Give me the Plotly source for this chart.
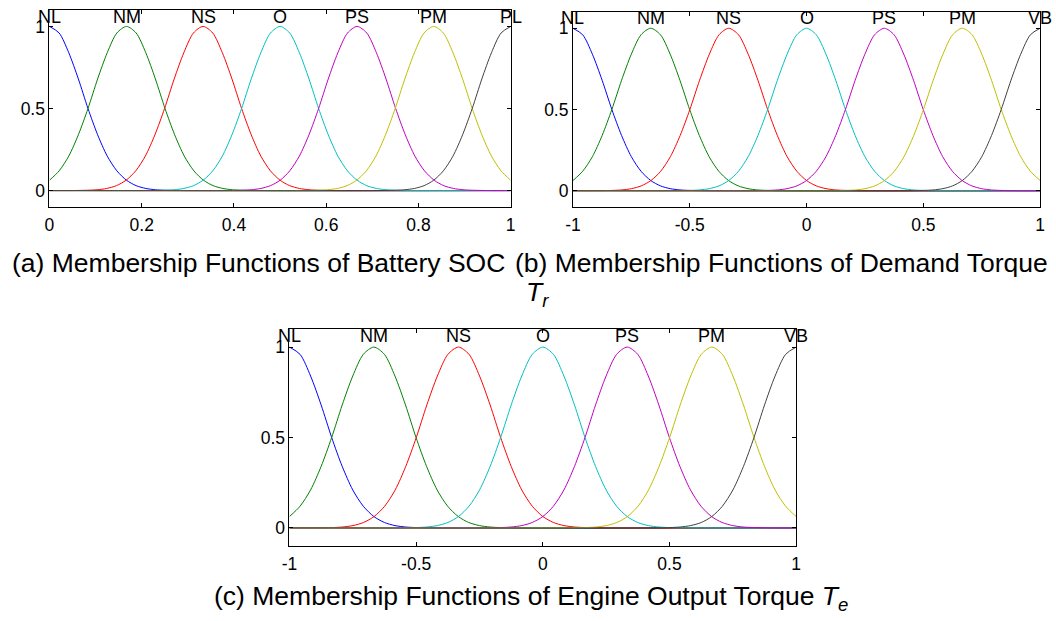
import plotly.graph_objects as go

# ---------------- data ----------------
soc_centers = [0.0, 0.167, 0.333, 0.5, 0.667, 0.833, 1.0]
torque_centers = [-1.0, -0.667, -0.333, 0.0, 0.333, 0.667, 1.0]
soc_labels = ["NL", "NM", "NS", "O", "PS", "PM", "PL"]
torque_labels = ["NL", "NM", "NS", "O", "PS", "PM", "VB"]

# membership profile: offset from the MF centre
# (in units of the centre spacing) and the membership degree there
mf_offset = [0.0, 0.125, 0.25, 0.375, 0.5, 0.625, 0.75, 0.875, 1.0, 1.125, 1.25, 1.375, 1.5, 1.75]
mf_value = [1.0, 0.96, 0.84, 0.68, 0.50, 0.34, 0.21, 0.12, 0.063, 0.03, 0.013, 0.005, 0.002, 0.0]

soc_ticks = [0, 0.2, 0.4, 0.6, 0.8, 1]
soc_ticktext = ["0", "0.2", "0.4", "0.6", "0.8", "1"]
torque_ticks = [-1, -0.5, 0, 0.5, 1]
torque_ticktext = ["-1", "-0.5", "0", "0.5", "1"]
y_ticks = [0, 0.5, 1]
y_ticktext = ["0", "0.5", "1"]

mf_colors = ["#0000FF", "#008000", "#FF0000", "#00BFBF", "#BF00BF", "#BFBF00", "#404040"]

caption_a = "(a) Membership Functions of Battery SOC"
caption_b = "(b) Membership Functions of Demand Torque"
caption_b2 = "<i>T</i><sub><i>r</i></sub>"
caption_c = "(c) Membership Functions of Engine Output Torque <i>T</i><sub><i>e</i></sub>"

FONT = "Liberation Sans, Arial, sans-serif"


def mf_points(c, s, lo, hi):
    pts = []
    for o, v in zip(reversed(mf_offset[1:]), reversed(mf_value[1:])):
        pts.append((c - o * s, v))
    pts.append((c, mf_value[0]))
    for o, v in zip(mf_offset[1:], mf_value[1:]):
        pts.append((c + o * s, v))
    pts = [p for p in pts if lo - 1e-9 <= p[0] <= hi + 1e-9]
    if pts[0][0] > lo + 1e-9:
        pts.insert(0, (lo, 0.0))
    if pts[-1][0] < hi - 1e-9:
        pts.append((hi, 0.0))
    return [p[0] for p in pts], [p[1] for p in pts]


fig = go.Figure()
panels = [
    (soc_centers, soc_labels, 0.0, 1.0, "x", "y"),
    (torque_centers, torque_labels, -1.0, 1.0, "x2", "y2"),
    (torque_centers, torque_labels, -1.0, 1.0, "x3", "y3"),
]
annotations = []
for centers, labels, lo, hi, xa, ya in panels:
    s = centers[1] - centers[0]
    for i, c in enumerate(centers):
        xs, ys = mf_points(c, s, lo, hi)
        fig.add_trace(go.Scatter(x=xs, y=ys, mode="lines", xaxis=xa, yaxis=ya,
                                 line=dict(color=mf_colors[i], width=1, shape="spline", smoothing=0.8),
                                 showlegend=False, hoverinfo="skip"))
        annotations.append(dict(x=c, y=1.06, xref=xa, yref=ya, text=labels[i], showarrow=False,
                                xanchor="center", yanchor="middle",
                                font=dict(family=FONT, size=18, color="black")))

W, H = 1056, 621


def dom(a, b, total):
    return [a / total, b / total]


def ydom(top, bottom):
    return [1 - bottom / H, 1 - top / H]


axis_common = dict(showline=True, linecolor="black", linewidth=1, mirror="ticks",
                   ticks="inside", ticklen=4, tickcolor="black", tickwidth=1,
                   showgrid=False, zeroline=False,
                   tickfont=dict(family=FONT, size=17.5, color="black"))

fig.update_layout(
    width=W, height=H, margin=dict(l=0, r=0, t=0, b=0),
    paper_bgcolor="white", plot_bgcolor="white",
    xaxis=dict(domain=dom(42, 509, W), range=[0, 1], anchor="y", tickvals=soc_ticks,
               ticktext=soc_ticktext, ticklabelstandoff=2, **axis_common),
    yaxis=dict(domain=ydom(10, 207), range=[-0.1, 1.1], anchor="x", tickvals=y_ticks,
               ticktext=y_ticktext, **axis_common),
    xaxis2=dict(domain=dom(572, 1045, W), range=[-1, 1], anchor="y2", tickvals=torque_ticks,
                ticktext=torque_ticktext, ticklabelstandoff=2, **axis_common),
    yaxis2=dict(domain=ydom(12, 207), range=[-0.1, 1.1], anchor="x2", tickvals=y_ticks,
                ticktext=y_ticktext, **axis_common),
    xaxis3=dict(domain=dom(285, 798, W), range=[-1, 1], anchor="y3", tickvals=torque_ticks,
                ticktext=torque_ticktext, ticklabelstandoff=2, **axis_common),
    yaxis3=dict(domain=ydom(329, 546), range=[-0.1, 1.1], anchor="x3", tickvals=y_ticks,
                ticktext=y_ticktext, **axis_common),
)

cap_font = dict(family=FONT, size=26.5, color="black")
annotations += [
    dict(x=254 / W, y=1 - 263 / H, xref="paper", yref="paper", text=caption_a, showarrow=False,
         xanchor="center", yanchor="middle", font=cap_font),
    dict(x=1055 / W, y=1 - 263 / H, xref="paper", yref="paper", text=caption_b, showarrow=False,
         xanchor="right", yanchor="middle", font=cap_font),
    dict(x=522 / W, y=1 - 294 / H, xref="paper", yref="paper", text=caption_b2, showarrow=False,
         xanchor="left", yanchor="middle", font=cap_font),
    dict(x=530 / W, y=1 - 598 / H, xref="paper", yref="paper", text=caption_c, showarrow=False,
         xanchor="center", yanchor="middle", font=cap_font),
]
fig.update_layout(annotations=annotations)

fig.write_html("out.html")
